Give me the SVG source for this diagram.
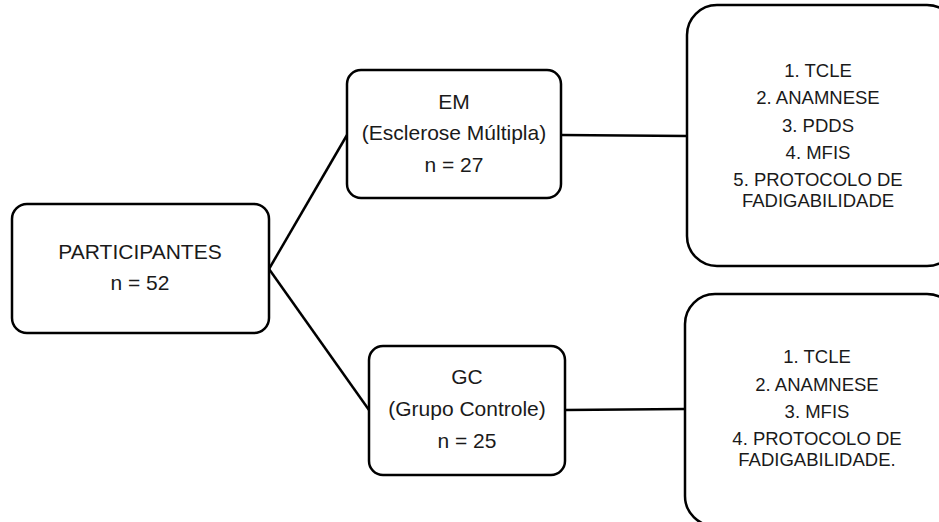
<svg xmlns="http://www.w3.org/2000/svg" width="939" height="522" viewBox="0 0 939 522">
<style>
.box{fill:#fff;stroke:#000;stroke-width:2.5}
.conn{stroke:#000;stroke-width:2.5;fill:none}
.t{font-family:"Liberation Sans",Arial,sans-serif;fill:#1a1a1a;text-anchor:middle}
.m{font-size:21px}
.s{font-size:18.5px}
</style>
<rect width="939" height="522" fill="#fff"/>
<g id="connectors">
<line class="conn" x1="269" y1="269" x2="347" y2="135"/>
<line class="conn" x1="269" y1="269" x2="369" y2="410"/>
<line class="conn" x1="561" y1="135" x2="687" y2="136"/>
<line class="conn" x1="565" y1="410" x2="685" y2="409"/>
</g>
<g id="participantes">
<rect class="box" x="12" y="204" width="257" height="129" rx="15"/>
<text class="t m" x="140" y="259">PARTICIPANTES</text>
<text class="t m" x="140" y="290">n = 52</text>
</g>
<g id="em">
<rect class="box" x="347" y="70" width="214" height="128" rx="14"/>
<text class="t m" x="454" y="109">EM</text>
<text class="t m" x="454" y="140">(Esclerose Múltipla)</text>
<text class="t m" x="454" y="172">n = 27</text>
</g>
<g id="gc">
<rect class="box" x="369" y="346" width="196" height="129" rx="14"/>
<text class="t m" x="467" y="384">GC</text>
<text class="t m" x="467" y="416">(Grupo Controle)</text>
<text class="t m" x="467" y="448">n = 25</text>
</g>
<g id="em-protocolo">
<rect class="box" x="687" y="5" width="270" height="261" rx="30"/>
<text class="t s" x="818" y="77">1. TCLE</text>
<text class="t s" x="818" y="104">2. ANAMNESE</text>
<text class="t s" x="818" y="132">3. PDDS</text>
<text class="t s" x="818" y="159">4. MFIS</text>
<text class="t s" x="818" y="186">5. PROTOCOLO DE</text>
<text class="t s" x="818" y="207">FADIGABILIDADE</text>
</g>
<g id="gc-protocolo">
<rect class="box" x="685" y="294" width="272" height="232" rx="30"/>
<text class="t s" x="817" y="363">1. TCLE</text>
<text class="t s" x="817" y="391">2. ANAMNESE</text>
<text class="t s" x="817" y="418">3. MFIS</text>
<text class="t s" x="817" y="445">4. PROTOCOLO DE</text>
<text class="t s" x="817" y="466">FADIGABILIDADE.</text>
</g>
</svg>
